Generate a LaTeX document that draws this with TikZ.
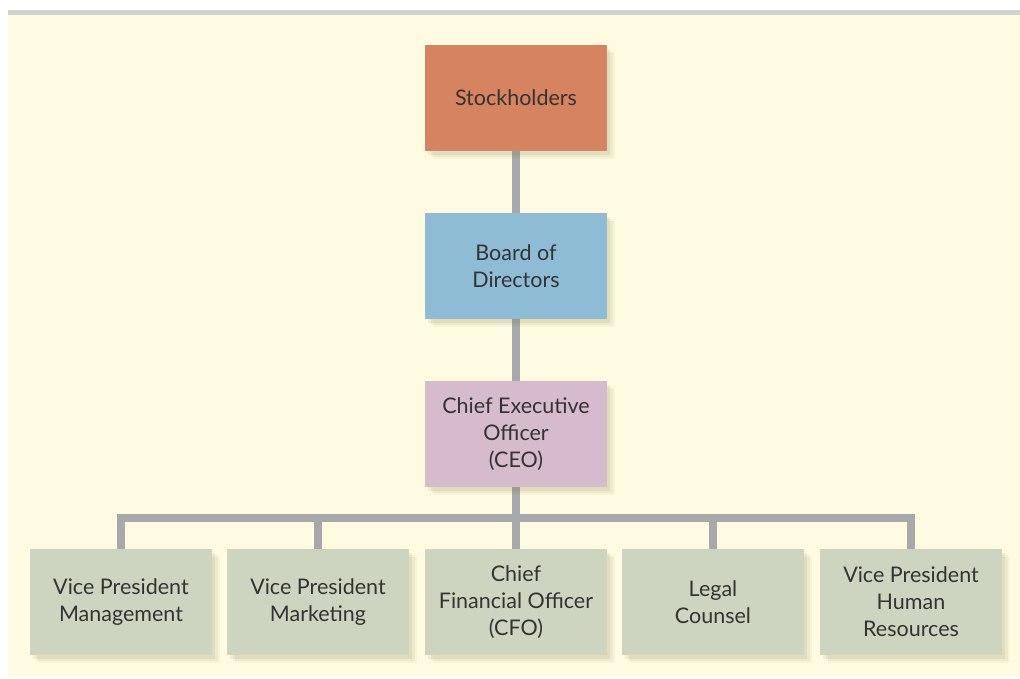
\documentclass[tikz,border=0pt]{standalone}
\usepackage{fontspec}
\setmainfont{Lato}
\usetikzlibrary{shadows,backgrounds}
\definecolor{cream}{HTML}{FEFBE0}
\definecolor{band}{HTML}{D2D2D2}
\definecolor{wire}{HTML}{A7A8AC}
\definecolor{stockc}{HTML}{D6835F}
\definecolor{boardc}{HTML}{8EBCD5}
\definecolor{ceoc}{HTML}{D5BBCB}
\definecolor{vpc}{HTML}{CDD5C0}
\definecolor{inkc}{HTML}{333333}
\definecolor{shadec}{HTML}{6E6A40}
\begin{document}
\begin{tikzpicture}[x=1pt, y=-1pt,
    box/.style={rectangle, minimum width=182pt, minimum height=106pt,
        align=center, text=inkc, inner sep=0pt,
        font=\fontsize{21.5}{27}\selectfont,
        drop shadow={shadow xshift=8pt, shadow yshift=-8pt, fill=shadec, opacity=.05},
        drop shadow={shadow xshift=6pt, shadow yshift=-6pt, fill=shadec, opacity=.07},
        drop shadow={shadow xshift=3pt, shadow yshift=-4pt, fill=shadec, opacity=.09}},
    conn/.style={draw=wire, line width=8pt, line join=miter}]
    \useasboundingbox (0,0) rectangle (1020,678);

    \coordinate (bus) at (516,518);

    \node[box, fill=stockc] (stock) at (516,98) {Stockholders};
    \node[box, fill=boardc] (board) at (516,266) {Board of\\Directors};
    \node[box, fill=ceoc] (ceo) at (516,434) {Chief Executive\\Officer\\(CEO)};

    \node[box, fill=vpc] (vpm) at (121,602) {Vice President\\Management};
    \node[box, fill=vpc] (vpk) at (318,602) {Vice President\\Marketing};
    \node[box, fill=vpc] (cfo) at (516,602) {Chief\\Financial Officer\\(CFO)};
    \node[box, fill=vpc] (legal) at (713,602) {Legal\\Counsel};
    \node[box, fill=vpc] (vph) at (911,602) {Vice President\\Human\\Resources};

    \begin{scope}[on background layer]
        \fill[white] (0,0) rectangle (1020,678);
        \fill[band] (8,10) rectangle (1020,15);
        \fill[cream] (8,15) rectangle (1020,677);
        \draw[conn] (stock) -- (board);
        \draw[conn] (board) -- (ceo);
        \draw[conn] (ceo.south) -- (bus);
        \foreach \n in {vpm,vpk,cfo,legal,vph}
            \draw[conn] (bus) -| (\n.north);
    \end{scope}
\end{tikzpicture}
\end{document}
